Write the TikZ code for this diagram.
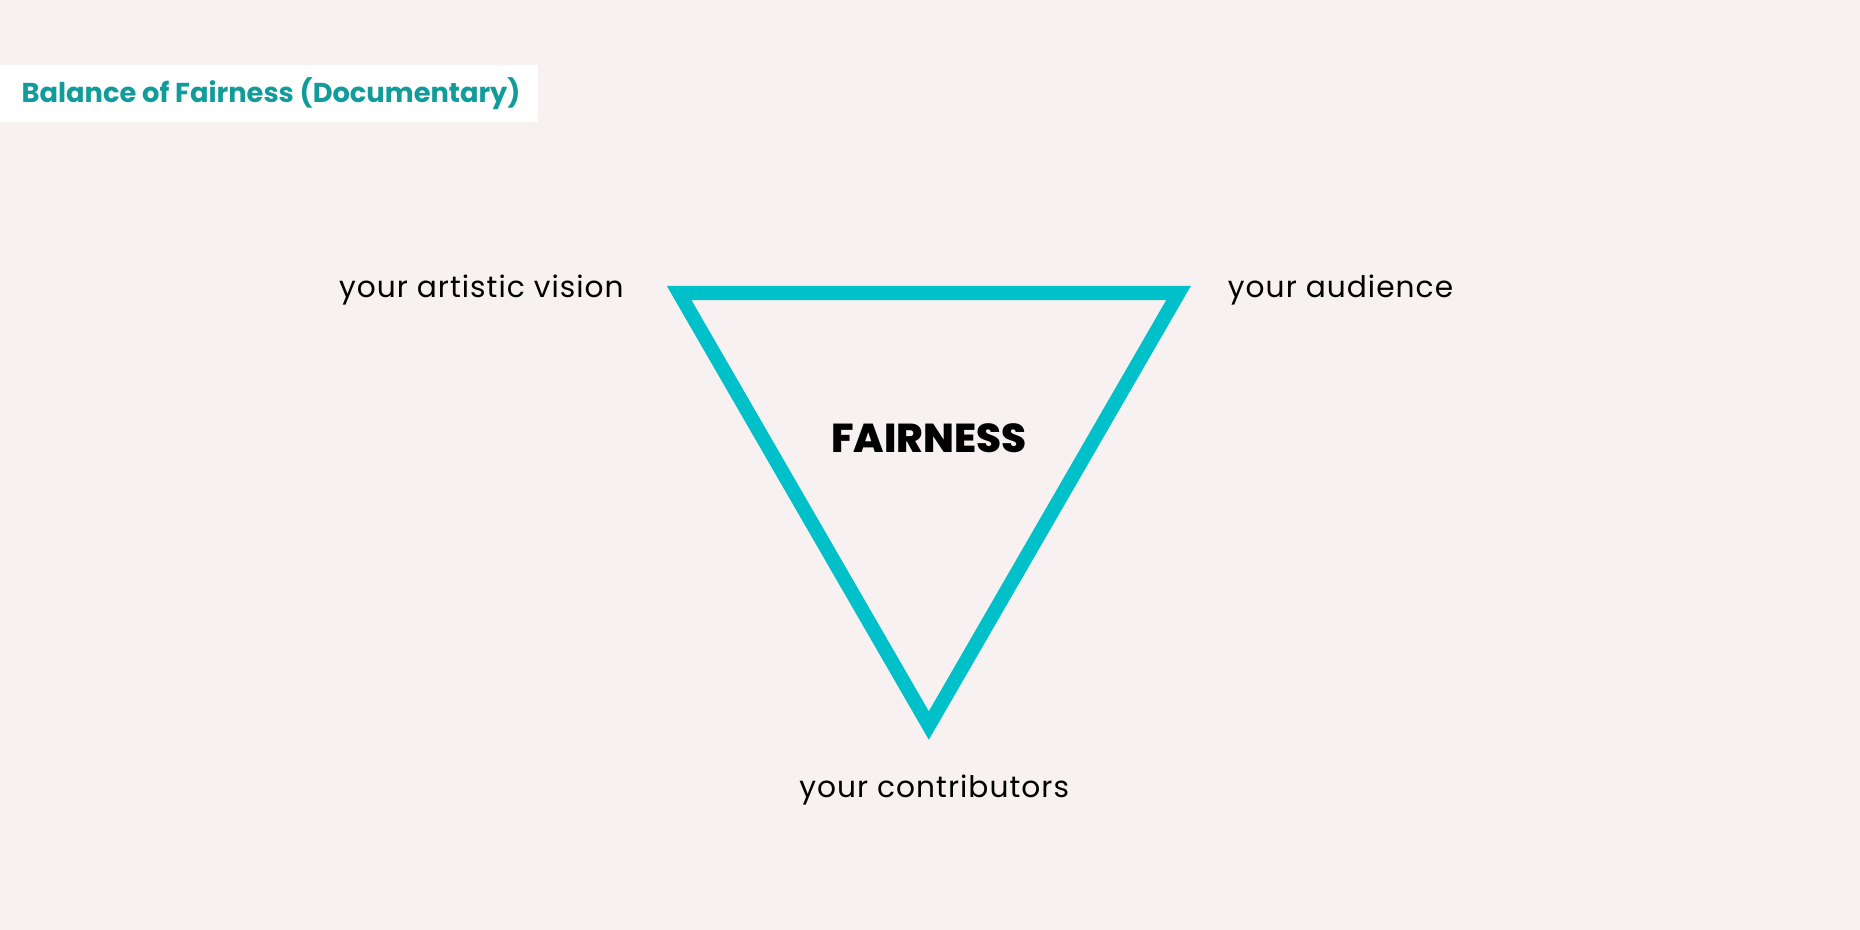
\documentclass[tikz,border=0pt]{standalone}
\usepackage{fontspec}
\setmainfont{Poppins}
\newfontfamily\poppinsspaced{Poppins}[LetterSpace=3.5]
\newfontfamily\poppinsheavy{Poppins ExtraBold}
\definecolor{paper}{RGB}{247,241,241}
\definecolor{fair_cyan}{RGB}{0,193,202}
\definecolor{title_teal}{RGB}{17,156,155}
\begin{document}
\begin{tikzpicture}[x=1pt, y=-1pt,
                    title_box/.style={fill=white, minimum width=453pt, minimum height=48pt, anchor=north west, inner sep=0},
                    title_text/.style={anchor=west, inner sep=0, text=title_teal, font=\fontsize{23}{27}\selectfont\bfseries},
                    corner_label/.style={font=\fontsize{25}{30}\poppinsspaced, text=black, inner sep=0},
                    balance/.style={draw=fair_cyan, line width=12pt, miter limit=10}
                    ]
        \useasboundingbox (0,0) rectangle (1568,784);
        \fill[paper] (0,0) rectangle (1568,784);

        % title
        \node[title_box] (Tbox) at (0,55) {};
        \node[title_text] (Ttext) at (18,79) {Balance of Fairness (Documentary)};

        % triangle
        \coordinate (Vart) at (572.5,247);
        \coordinate (Vaud) at (993.5,247);
        \coordinate (Vcon) at (783,611.6);
        \draw[balance] (Vart) -- (Vaud) -- (Vcon) -- cycle;

        \node[font=\fontsize{34}{40}\poppinsheavy, inner sep=0] (Fair) at (783,369) {FAIRNESS};

        % corners
        \node[corner_label, anchor=base east] (Lart) at (526,250.5) {your artistic vision};
        \node[corner_label, anchor=base west] (Laud) at (1035,250.5) {your audience};
        \node[corner_label, anchor=base] (Lcon) at (787.5,672) {your contributors};
    \end{tikzpicture}
\end{document}
